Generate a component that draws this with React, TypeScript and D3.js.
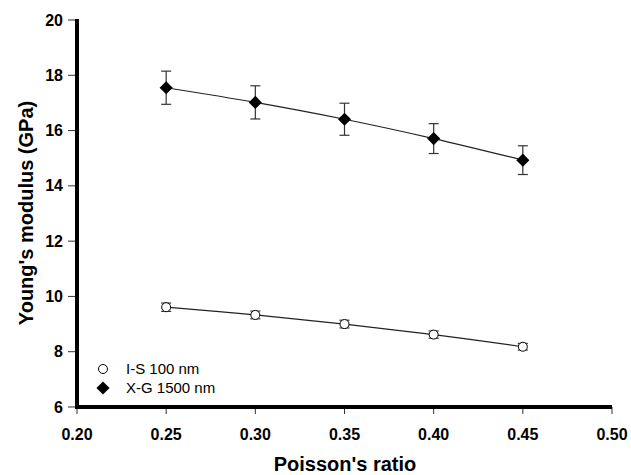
import React from "react";
import * as d3 from "d3";

const poisson = [0.25, 0.3, 0.35, 0.4, 0.45];
const isValues = [9.61, 9.33, 9.0, 8.62, 8.18];
const isErrors = [0.15, 0.14, 0.14, 0.13, 0.12];
const xgValues = [17.55, 17.02, 16.41, 15.71, 14.93];
const xgErrors = [0.6, 0.6, 0.58, 0.54, 0.52];
const xTicks = [0.2, 0.25, 0.3, 0.35, 0.4, 0.45, 0.5];
const yTicks = [6, 8, 10, 12, 14, 16, 18, 20];
const legendLabels = ["I-S 100 nm", "X-G 1500 nm"];

export default function App() {
  const x = d3.scaleLinear().domain([0.2, 0.5]).range([77, 612]);
  const y = d3.scaleLinear().domain([6, 20]).range([407, 20]);
  const line = d3
    .line<number>()
    .x((_, i) => x(poisson[i]))
    .y((d) => y(d))
    .curve(d3.curveCatmullRom.alpha(0.5));
  const font = "Arial, 'Liberation Sans', sans-serif";
  const diamond = d3.symbol().type(d3.symbolDiamond2).size(110)() as string;

  const errBars = (vals: number[], errs: number[], key: string) =>
    vals.map((v, i) => {
      const cx = x(poisson[i]);
      const t = y(v + errs[i]);
      const b = y(v - errs[i]);
      return (
        <g key={key + i} stroke="#333" strokeWidth={1.2}>
          <line x1={cx} x2={cx} y1={t} y2={b} />
          <line x1={cx - 5} x2={cx + 5} y1={t} y2={t} />
          <line x1={cx - 5} x2={cx + 5} y1={b} y2={b} />
        </g>
      );
    });

  return (
    <svg
      width={631}
      height={475}
      style={{ position: "absolute", left: 0, top: 0, background: "#fff" }}
      fontFamily={font}
    >
      {yTicks.map((t) => (
        <g key={"y" + t}>
          <line x1={68} x2={77} y1={y(t)} y2={y(t)} stroke="#333" strokeWidth={1} />
          <text
            x={63}
            y={y(t)}
            dy="0.35em"
            textAnchor="end"
            fontSize={16}
            fontWeight="bold"
          >
            {t}
          </text>
        </g>
      ))}
      {xTicks.map((t) => (
        <g key={"x" + t}>
          <line x1={x(t)} x2={x(t)} y1={407} y2={414} stroke="#333" strokeWidth={1} />
          <text
            x={x(t)}
            y={440}
            textAnchor="middle"
            fontSize={16}
            fontWeight="bold"
          >
            {t.toFixed(2)}
          </text>
        </g>
      ))}
      <line x1={77} x2={77} y1={19} y2={409} stroke="#000" strokeWidth={4} />
      <line x1={75} x2={612} y1={407} y2={407} stroke="#000" strokeWidth={4} />

      <path d={line(xgValues) || ""} fill="none" stroke="#222" strokeWidth={1.2} />
      <path d={line(isValues) || ""} fill="none" stroke="#222" strokeWidth={1.2} />

      {errBars(xgValues, xgErrors, "xg")}
      {errBars(isValues, isErrors, "is")}

      {xgValues.map((v, i) => (
        <path
          key={"xgm" + i}
          d={diamond}
          transform={`translate(${x(poisson[i])},${y(v)})`}
          fill="#000"
        />
      ))}
      {isValues.map((v, i) => (
        <circle
          key={"ism" + i}
          cx={x(poisson[i])}
          cy={y(v)}
          r={4.5}
          fill="#fff"
          stroke="#000"
          strokeWidth={1}
        />
      ))}

      <circle cx={103} cy={369} r={4.5} fill="#fff" stroke="#000" strokeWidth={1} />
      <path d={diamond} transform="translate(103,388)" fill="#000" />
      <text x={126} y={369} dy="0.35em" fontSize={15}>
        {legendLabels[0]}
      </text>
      <text x={126} y={388} dy="0.35em" fontSize={15}>
        {legendLabels[1]}
      </text>

      <text x={345} y={471} textAnchor="middle" fontSize={20} fontWeight="bold">
        Poisson's ratio
      </text>
      <text
        transform="translate(33,213) rotate(-90)"
        textAnchor="middle"
        fontSize={20}
        fontWeight="bold"
      >
        Young's modulus (GPa)
      </text>
    </svg>
  );
}
